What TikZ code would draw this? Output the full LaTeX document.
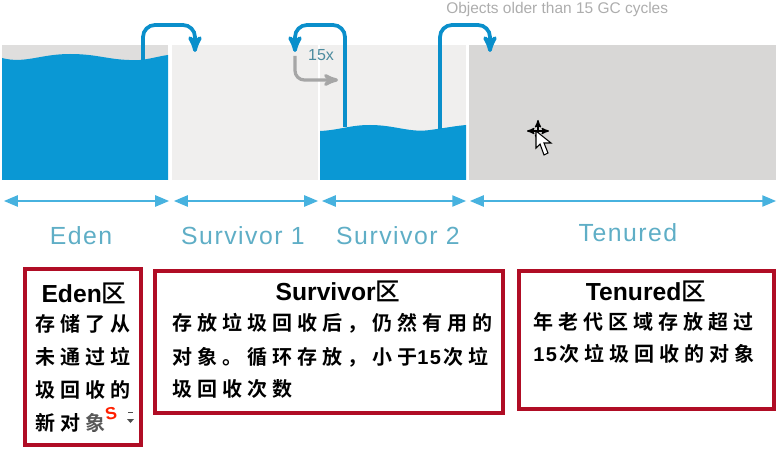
\documentclass[tikz,border=0pt]{standalone}
\usepackage{fontspec}
\setmainfont{Liberation Sans}
\newfontfamily\cjk[LetterSpace=25,BoldFont={Noto Sans CJK SC Bold}]{Noto Sans CJK SC}
\newfontfamily\cjktitle[BoldFont={Noto Sans CJK SC Medium}]{Noto Sans CJK SC}
\newcommand{\gcnum}{{\rmfamily\bfseries\addfontfeature{LetterSpace=8} 15}\hspace{2pt}}
\usetikzlibrary{arrows, positioning}
\definecolor{waterblue}{HTML}{0A98D4}
\definecolor{arrowblue}{HTML}{0A8FCB}
\definecolor{labelblue}{HTML}{5FAEC6}
\definecolor{lightarea}{HTML}{F0EFEE}
\definecolor{darkarea}{HTML}{D8D7D6}
\definecolor{boxred}{HTML}{B00D25}
\tikzset{
	flow/.style={->,>=stealth',draw=arrowblue,line width=2.8pt,rounded corners=9pt},
	spanarrow/.style={<->,>=triangle 45,draw=waterblue!75,line width=1.4pt},
	spacelabel/.style={text=labelblue,font=\fontsize{18.6}{18}\selectfont\addfontfeature{LetterSpace=6}},
	infobox/.style={draw=boxred,line width=2.6pt,fill=white,inner sep=0pt},
	boxtitle/.style={font=\fontsize{18.5}{18}\selectfont\bfseries,inner sep=0pt},
	boxline/.style={anchor=west,font=\fontsize{15}{15}\cjk\bfseries,inner sep=0pt},
}
\begin{document}
\begin{tikzpicture}[x=0.75pt,y=-0.75pt]
	\useasboundingbox (0,0) rectangle (778,449);

	% memory areas
	\fill[darkarea!70!lightarea] (2,45) rectangle (168,180);
	\fill[lightarea] (172,45) rectangle (318,180);
	\fill[lightarea] (320,45) rectangle (466,180);
	\fill[darkarea] (469,45) rectangle (776,180);
	\fill[waterblue] (2,58) .. controls (25,64) and (40,54) .. (70,54)
		.. controls (100,54) and (110,61) .. (140,60) .. controls (150,59) and (160,56) .. (168,55)
		-- (168,180) -- (2,180) -- cycle;
	\fill[waterblue] (320,131) .. controls (340,130) and (350,125) .. (370,125)
		.. controls (395,125) and (410,133) .. (430,130) .. controls (445,128) and (455,126) .. (466,125)
		-- (466,180) -- (320,180) -- cycle;

	% moves between the areas
	\coordinate (edenout) at (143,60);
	\coordinate (sone) at (195,52);
	\coordinate (stwoout) at (345,127);
	\coordinate (stwoin) at (295,52);
	\coordinate (tenout) at (440,129);
	\coordinate (tenin) at (490,52);
	\coordinate (edentop) at (169,25);
	\coordinate (stwotop) at (320,25);
	\coordinate (tentop) at (465,25);
	\draw[flow] (edenout) |- (edentop) -| (sone);
	\draw[flow] (stwoout) |- (stwotop) -| (stwoin);
	\draw[flow] (tenout) |- (tentop) -| (tenin);
	\coordinate (grayout) at (295,56);
	\coordinate (grayin) at (338,80);
	\draw[->,>=stealth',draw=black!35,line width=2.4pt,rounded corners=7pt] (grayout) |- (grayin);
	\node[text=labelblue!80!black,font=\fontsize{12}{12}\selectfont] (times) at (321,55) {15x};
	\node[text=black!32,font=\fontsize{11.6}{12}\selectfont,anchor=west,inner sep=0pt] (older) at (446,10) {Objects older than 15 GC cycles};

	% extents
	\foreach \name/\xa/\xb in {eden/4/169,sa/174/318,sb/322/466,ten/470/776} {
		\coordinate (\name l) at (\xa,201);
		\coordinate (\name r) at (\xb,201);
		\draw[spanarrow] (\name l) -- (\name r);
	}
	\node[spacelabel] (edenlabel) at (81,236) {Eden};
	\node[spacelabel] (salabel) at (243,236) {Survivor 1};
	\node[spacelabel] (sblabel) at (398,236) {Survivor 2};
	\node[spacelabel] (tenlabel) at (628,233) {Tenured};

	% text boxes
	\node[infobox,minimum width=87pt,minimum height=132pt] (edenbox) at (83,357) {};
	\node[infobox,minimum width=261pt,minimum height=106.5pt] (survbox) at (329,342) {};
	\node[infobox,minimum width=191.25pt,minimum height=103.5pt] (tenbox) at (646.5,340) {};

	\node[boxtitle] (edentitle) at (84,293) {Eden{\cjktitle 区}};
	\node[boxtitle] (survtitle) at (338,291) {Survivor{\cjktitle 区}};
	\node[boxtitle] (tentitle) at (646,291) {Tenured{\cjktitle 区}};

	\node[boxline] (e1) at (35,324) {存储了从};
	\node[boxline] (e2) at (35,357) {未通过垃};
	\node[boxline] (e3) at (35,390) {圾回收的};
	\node[boxline] (e4) at (35,423) {新对象};

	\node[boxline] (s1) at (172,323) {存放垃圾回收后，仍然有用的};
	\node[boxline] (s2) at (172,357) {对象。循环存放，小于\gcnum 次垃};
	\node[boxline] (s3) at (172,389) {圾回收次数};

	\node[boxline] (t1) at (533,322) {年老代区域存放超过};
	\node[boxline] (t2) at (533,354) {\gcnum 次垃圾回收的对象};

	% input method badge and pointer
	\fill[white,opacity=0.35] (84,406) rectangle (139,431);
	\node[text=red!75!orange,font=\fontsize{13}{13}\selectfont\bfseries,rotate=10,inner sep=0pt] (badge) at (111,414) {S};
	\fill[black!70] (128,412) rectangle (133,413);
	\fill[black!70] (127,419) -- (134,419) -- (130.5,423) -- cycle;
	\draw[black,line width=1pt,<->,>=stealth'] (527,131) -- (549,131);
	\draw[black,line width=1pt,<->,>=stealth'] (538,120) -- (538,142);
	\draw[black,fill=white,line width=0.8pt] (536,131) -- (536,148) -- (540,144) -- (544,155) -- (548,153) -- (544,143) -- (551,143) -- cycle;
\end{tikzpicture}
\end{document}
